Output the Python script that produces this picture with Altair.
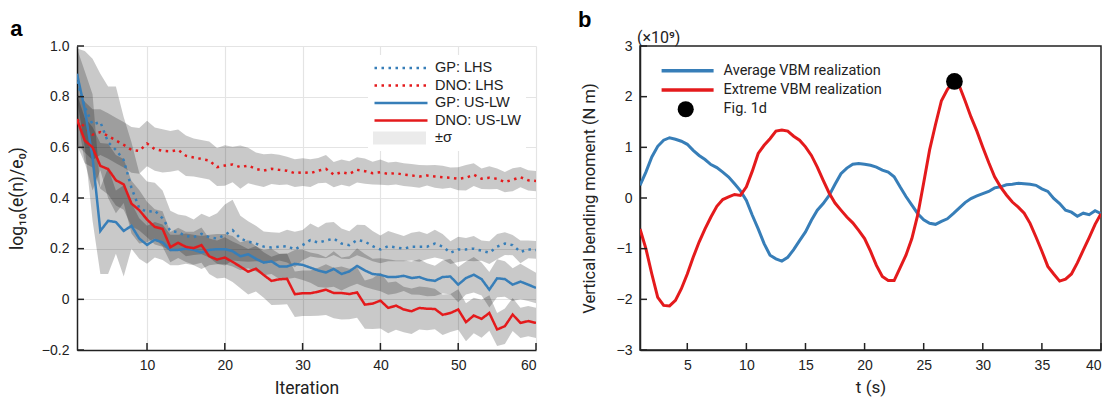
import altair as alt
import pandas as pd

BLUE = "#377eb8"
RED = "#e41a1c"

# ---------------- panel a data ----------------
iters = list(range(1, 61))
gp_lhs = [0.86, 0.76, 0.69, 0.70, 0.62, 0.59, 0.55, 0.44, 0.36, 0.345,
          0.35, 0.32, 0.27, 0.265, 0.25, 0.245, 0.258, 0.245, 0.24, 0.254,
          0.273, 0.24, 0.228, 0.22, 0.208, 0.205, 0.208, 0.21, 0.197, 0.214,
          0.234, 0.224, 0.232, 0.24, 0.22, 0.214, 0.234, 0.228, 0.21, 0.197,
          0.21, 0.205, 0.2, 0.208, 0.208, 0.208, 0.22, 0.208, 0.184, 0.197,
          0.197, 0.2, 0.192, 0.184, 0.208, 0.22, 0.214, 0.187, 0.197, 0.195]
dno_lhs = [0.71, 0.68, 0.65, 0.66, 0.645, 0.627, 0.61, 0.59, 0.586, 0.615,
           0.593, 0.586, 0.584, 0.59, 0.567, 0.56, 0.554, 0.548, 0.522, 0.528,
           0.532, 0.522, 0.528, 0.515, 0.508, 0.515, 0.511, 0.508, 0.498, 0.502,
           0.498, 0.508, 0.515, 0.492, 0.502, 0.495, 0.511, 0.506, 0.498, 0.502,
           0.495, 0.498, 0.492, 0.489, 0.485, 0.489, 0.485, 0.482, 0.48, 0.476,
           0.48, 0.492, 0.476, 0.48, 0.476, 0.463, 0.472, 0.482, 0.47, 0.467]
gp_uslw = [0.89, 0.75, 0.56, 0.27, 0.31, 0.305, 0.27, 0.29, 0.24, 0.215,
           0.235, 0.225, 0.195, 0.195, 0.2, 0.195, 0.185, 0.195, 0.198, 0.198,
           0.19, 0.17, 0.178, 0.16, 0.145, 0.15, 0.13, 0.13, 0.14, 0.136,
           0.125, 0.114, 0.106, 0.12, 0.1, 0.11, 0.132, 0.114, 0.1, 0.097,
           0.088, 0.088, 0.093, 0.084, 0.088, 0.077, 0.073, 0.088, 0.09, 0.058,
           0.084, 0.097, 0.08, 0.038, 0.083, 0.08, 0.058, 0.07, 0.058, 0.045]
dno_uslw = [0.71, 0.627, 0.6, 0.527, 0.514, 0.47, 0.454, 0.378, 0.352, 0.315,
            0.286, 0.278, 0.206, 0.223, 0.207, 0.202, 0.214, 0.17, 0.157, 0.165,
            0.148, 0.129, 0.109, 0.121, 0.096, 0.073, 0.079, 0.081, 0.02, 0.024,
            0.024, 0.03, 0.038, 0.025, 0.025, 0.021, 0.027, -0.021, -0.017, -0.005,
            -0.034, -0.025, -0.04, -0.047, -0.034, -0.037, -0.038, -0.061, -0.054, -0.04,
            -0.09, -0.064, -0.077, -0.054, -0.119, -0.106, -0.06, -0.093, -0.086, -0.093]

sd_gp_lhs = [0.13, 0.22, 0.26, 0.19, 0.22, 0.25, 0.17, 0.18, 0.14, 0.12,
             0.11, 0.11, 0.08, 0.07, 0.08, 0.07, 0.08, 0.08, 0.1, 0.12,
             0.12, 0.09, 0.08, 0.07, 0.06, 0.06, 0.055, 0.065, 0.07, 0.06,
             0.065, 0.06, 0.07, 0.065, 0.06, 0.055, 0.06, 0.065, 0.06, 0.055,
             0.06, 0.055, 0.05, 0.055, 0.06, 0.05, 0.055, 0.05, 0.045, 0.05,
             0.045, 0.05, 0.04, 0.045, 0.05, 0.045, 0.04, 0.045, 0.035, 0.035]
sd_dno_lhs = [0.1, 0.1, 0.1, 0.09, 0.09, 0.09, 0.09, 0.09, 0.09, 0.09,
              0.085, 0.085, 0.08, 0.08, 0.08, 0.075, 0.075, 0.075, 0.075, 0.08,
              0.07, 0.085, 0.07, 0.065, 0.065, 0.06, 0.06, 0.055, 0.055, 0.055,
              0.055, 0.05, 0.055, 0.05, 0.05, 0.05, 0.05, 0.05, 0.045, 0.05,
              0.045, 0.045, 0.045, 0.045, 0.045, 0.04, 0.045, 0.045, 0.04, 0.045,
              0.05, 0.045, 0.04, 0.045, 0.04, 0.04, 0.045, 0.04, 0.04, 0.04]
sd_gp_uslw = [0.1, 0.15, 0.25, 0.17, 0.21, 0.125, 0.18, 0.09, 0.08, 0.075,
              0.07, 0.07, 0.06, 0.06, 0.06, 0.06, 0.065, 0.06, 0.06, 0.06,
              0.06, 0.055, 0.055, 0.05, 0.05, 0.05, 0.05, 0.05, 0.055, 0.06,
              0.06, 0.065, 0.06, 0.07, 0.065, 0.06, 0.07, 0.065, 0.06, 0.065,
              0.07, 0.065, 0.06, 0.065, 0.07, 0.065, 0.06, 0.065, 0.07, 0.07,
              0.065, 0.07, 0.065, 0.07, 0.075, 0.07, 0.065, 0.07, 0.065, 0.06]
sd_dno_uslw = [0.1, 0.09, 0.08, 0.09, 0.1, 0.1, 0.1, 0.09, 0.08, 0.07,
               0.07, 0.07, 0.06, 0.06, 0.06, 0.065, 0.07, 0.07, 0.075, 0.08,
               0.08, 0.085, 0.09, 0.09, 0.09, 0.095, 0.1, 0.1, 0.09, 0.09,
               0.09, 0.095, 0.1, 0.1, 0.105, 0.1, 0.1, 0.095, 0.1, 0.11,
               0.1, 0.095, 0.09, 0.09, 0.085, 0.085, 0.08, 0.08, 0.075, 0.08,
               0.075, 0.07, 0.075, 0.07, 0.065, 0.07, 0.065, 0.06, 0.06, 0.06]

series_a = ["GP: LHS", "DNO: LHS", "GP: US-LW", "DNO: US-LW"]
band_label = "\u00b1\u03c3"
a_x_ticks = [10, 20, 30, 40, 50, 60]
a_y_ticks = [-0.2, 0, 0.2, 0.4, 0.6, 0.8, 1.0]

# ---------------- panel b data ----------------
t_s = [1, 1.5, 2, 2.5, 3, 3.5, 4, 4.5, 5, 5.5, 6, 6.5, 7, 7.5, 8, 8.5, 9, 9.5, 10, 10.5,
       11, 11.5, 12, 12.5, 13, 13.5, 14, 14.5, 15, 15.5, 16, 16.5, 17, 17.5, 18, 18.5,
       19, 19.5, 20, 20.5, 21, 21.5, 22, 22.5, 23, 23.5, 24, 24.5, 25, 25.5, 26, 26.5,
       27, 27.5, 28, 28.5, 29, 29.5, 30, 30.5, 31, 31.5, 32, 32.5, 33, 33.5, 34, 34.5,
       35, 35.5, 36, 36.5, 37, 37.5, 38, 38.5, 39, 39.5, 40]
avg_vbm = [0.25, 0.51, 0.81, 1.02, 1.14, 1.19, 1.16, 1.12, 1.06, 0.94, 0.84, 0.76, 0.66, 0.60,
           0.51, 0.415, 0.28, 0.14, -0.05, -0.34, -0.61, -0.9, -1.13, -1.2, -1.245, -1.17,
           -1.02, -0.84, -0.67, -0.44, -0.24, -0.11, 0.05, 0.27, 0.48, 0.59, 0.665, 0.68,
           0.665, 0.645, 0.61, 0.55, 0.51, 0.42, 0.22, 0.03, -0.14, -0.31, -0.43, -0.5,
           -0.52, -0.46, -0.41, -0.31, -0.2, -0.09, -0.01, 0.04, 0.085, 0.13, 0.2, 0.22,
           0.26, 0.27, 0.29, 0.28, 0.27, 0.25, 0.18, 0.13, -0.01, -0.11, -0.24, -0.28,
           -0.36, -0.3, -0.33, -0.25, -0.31]
ext_vbm = [-0.61, -1.0, -1.5, -1.96, -2.12, -2.13, -2.02, -1.79, -1.5, -1.17, -0.87, -0.61,
           -0.375, -0.165, -0.03, 0.02, 0.07, 0.05, 0.22, 0.53, 0.88, 1.04, 1.17, 1.32, 1.34,
           1.32, 1.22, 1.14, 1.01, 0.84, 0.61, 0.35, 0.1, -0.1, -0.24, -0.375, -0.49, -0.64,
           -0.8, -1.05, -1.33, -1.55, -1.63, -1.63, -1.38, -1.13, -0.8, -0.33, 0.3, 0.95,
           1.45, 1.92, 2.14, 2.3, 2.22, 1.92, 1.6, 1.32, 1.0, 0.7, 0.42, 0.22, 0.06, -0.08,
           -0.18, -0.3, -0.5, -0.77, -1.05, -1.35, -1.5, -1.64, -1.6, -1.5, -1.28, -1.03,
           -0.78, -0.52, -0.31]
series_b = ["Average VBM realization", "Extreme VBM realization", "Fig. 1d"]
dot_t = [27.6]
dot_v = [2.3]
b_x_ticks = [5, 10, 15, 20, 25, 30, 35, 40]
b_y_ticks = [-3, -2, -1, 0, 1, 2, 3]

# ---------------- tables ----------------
rows, brows = [], []
for name, m, s in zip(series_a, [gp_lhs, dno_lhs, gp_uslw, dno_uslw],
                      [sd_gp_lhs, sd_dno_lhs, sd_gp_uslw, sd_dno_uslw]):
    for i, mv, sv in zip(iters, m, s):
        rows.append({"iter": i, "val": mv, "series": name})
        brows.append({"iter": i, "lo": mv - sv, "hi": mv + sv, "series": name, "band": band_label})
df_a = pd.DataFrame(rows)
df_band = pd.DataFrame(brows)

brows2 = []
for name, vals in zip(series_b[:2], [avg_vbm, ext_vbm]):
    for t, v in zip(t_s, vals):
        brows2.append({"t": t, "v": v, "series": name})
df_b = pd.DataFrame(brows2)
df_dot = pd.DataFrame({"t": dot_t, "v": dot_v, "m": [series_b[2]]})

AX = "#222222"
W, H = 460, 304

xs_a = alt.Scale(domain=[1, 60], nice=False, zero=False)
ys_a = alt.Scale(domain=[-0.2, 1.0], nice=False, zero=False)
ax_x_a = alt.Axis(values=a_x_ticks, grid=True, title="Iteration", titlePadding=7, titleFontSize=17.5)
ax_y_a = alt.Axis(values=a_y_ticks, grid=True, title="log\u2081\u2080(e(n)/e\u2080)", titlePadding=15,
                  titleFontSize=17.5,
                  labelExpr="datum.value == 0 ? '0' : format(datum.value, '.1f')")

band = alt.Chart(df_band).mark_area(opacity=0.21, clip=True).encode(
    x=alt.X("iter:Q", scale=xs_a, axis=ax_x_a),
    y=alt.Y("lo:Q", scale=ys_a, axis=ax_y_a),
    y2="hi:Q",
    detail="series:N",
    fill=alt.Fill("band:N", scale=alt.Scale(domain=[band_label], range=["#000000"]),
                  legend=alt.Legend(title=None, orient="none", legendX=296, legendY=84, padding=0,
                                    symbolType="M-1,-0.245H1V0.245H-1Z", symbolSize=2809,
                                    symbolOpacity=0.08, symbolStrokeWidth=0, clipHeight=16,
                                    labelExpr="''", zindex=2)),
)

leg_a = alt.Legend(title=None, orient="none", legendX=291, legendY=9, padding=5, fillColor="white",
                   symbolType="stroke", symbolSize=2809, symbolStrokeWidth=2.5, clipHeight=16,
                   rowPadding=1.5, labelOffset=6, labelFont="Liberation Sans", labelFontSize=14.5,
                   labelColor=AX, zindex=1)
dom_a = series_a + [band_label]
lines_a = alt.Chart(df_a).mark_line(strokeWidth=2.5, clip=True).encode(
    x=alt.X("iter:Q", scale=xs_a, axis=ax_x_a),
    y=alt.Y("val:Q", scale=ys_a, axis=ax_y_a),
    color=alt.Color("series:N", scale=alt.Scale(domain=dom_a, range=[BLUE, RED, BLUE, RED, "transparent"]),
                    legend=leg_a),
    strokeDash=alt.StrokeDash("series:N", scale=alt.Scale(domain=dom_a,
                              range=[[2.5, 4.5], [2.5, 4.5], [1, 0], [1, 0], [1, 0]]), legend=leg_a),
)

xt_a = alt.Chart(pd.DataFrame({"v": a_x_ticks})).mark_rule(color=AX, strokeWidth=1.5).encode(
    x=alt.X("v:Q", scale=xs_a, axis=ax_x_a), y=alt.value(H), y2=alt.value(H - 7))
yt_a = alt.Chart(pd.DataFrame({"v": a_y_ticks})).mark_rule(color=AX, strokeWidth=1.5).encode(
    y=alt.Y("v:Q", scale=ys_a, axis=ax_y_a), x=alt.value(0), x2=alt.value(7))

title_a = alt.TitleParams("a", anchor="start", fontSize=22, fontWeight="bold", font="Liberation Sans",
                          dx=2, offset=-2, color="black")
chart_a = alt.layer(band, lines_a, xt_a, yt_a).properties(width=W - 1, height=H, title=title_a)

# ---------------- panel b ----------------
xs_b = alt.Scale(domain=[1, 40], nice=False, zero=False)
ys_b = alt.Scale(domain=[-3, 3], nice=False, zero=False)
ax_x_b = alt.Axis(values=b_x_ticks, grid=False, title="t (s)", titlePadding=7, titleFontSize=17)
ax_y_b = alt.Axis(values=b_y_ticks, grid=False, title="Vertical bending moment (N m)", titlePadding=19,
                  titleFontSize=16.5)

leg_b = alt.Legend(title=None, orient="none", legendX=19.6, legendY=15.7, padding=0,
                   symbolType="stroke", symbolSize=2704, symbolStrokeWidth=3.5, clipHeight=18,
                   rowPadding=1.3, labelOffset=8, labelFont="Roboto", labelFontSize=14.5,
                   labelColor=AX, zindex=1)
lines_b = alt.Chart(df_b).mark_line(strokeWidth=3, clip=True).encode(
    x=alt.X("t:Q", scale=xs_b, axis=ax_x_b),
    y=alt.Y("v:Q", scale=ys_b, axis=ax_y_b),
    color=alt.Color("series:N", scale=alt.Scale(domain=series_b, range=[BLUE, RED, "transparent"]),
                    legend=leg_b),
)
dot_b = alt.Chart(df_dot).mark_point(filled=True, size=280, opacity=1).encode(
    x=alt.X("t:Q", scale=xs_b, axis=ax_x_b),
    y=alt.Y("v:Q", scale=ys_b, axis=ax_y_b),
    fill=alt.Fill("m:N", scale=alt.Scale(domain=[series_b[2]], range=["#000000"]),
                  legend=alt.Legend(title=None, orient="none", legendX=37.2, legendY=54.3, padding=0,
                                    symbolType="circle", symbolSize=260, symbolOpacity=1,
                                    symbolStrokeWidth=0, clipHeight=18, labelExpr="''", zindex=2)),
)
exp_b = alt.Chart(pd.DataFrame({"label": ["(\u00d710\u2079)"]})).mark_text(
    align="left", baseline="alphabetic", font="Roboto", fontSize=16, color=AX
).encode(text="label:N", x=alt.value(-3), y=alt.value(-3))

xt_b = alt.Chart(pd.DataFrame({"v": b_x_ticks})).mark_rule(color=AX, strokeWidth=1.5).encode(
    x=alt.X("v:Q", scale=xs_b, axis=ax_x_b), y=alt.value(H), y2=alt.value(H - 7))
yt_b = alt.Chart(pd.DataFrame({"v": b_y_ticks})).mark_rule(color=AX, strokeWidth=1.5).encode(
    y=alt.Y("v:Q", scale=ys_b, axis=ax_y_b), x=alt.value(0), x2=alt.value(7))

title_b = alt.TitleParams("b", anchor="start", fontSize=22, fontWeight="bold", font="Liberation Sans",
                          dx=-3, offset=-2, color="black")
chart_b = alt.layer(lines_b, dot_b, exp_b, xt_b, yt_b).properties(
    width=W + 1, height=H,
    view=alt.ViewBackground(stroke=AX, strokeWidth=1.5),
    title=title_b,
)

chart = alt.hconcat(chart_a, chart_b, spacing=40).resolve_scale(
    color="independent", strokeDash="independent", fill="independent"
).resolve_legend(
    color="independent", strokeDash="independent", fill="independent"
).properties(
    padding={"left": 0, "top": 0, "right": 0, "bottom": 0}
).configure_view(stroke=None).configure_axis(
    ticks=False, labelFont="Liberation Sans", labelFontSize=14, labelColor=AX, labelPadding=8,
    titleFont="Roboto", titleFontSize=16, titleFontWeight="normal", titleColor=AX,
    domainColor=AX, domainWidth=1.5, gridColor="#e4e4e4", gridWidth=1.2,
)

chart.save("out.html", embed_options={"renderer": "svg", "actions": False})
